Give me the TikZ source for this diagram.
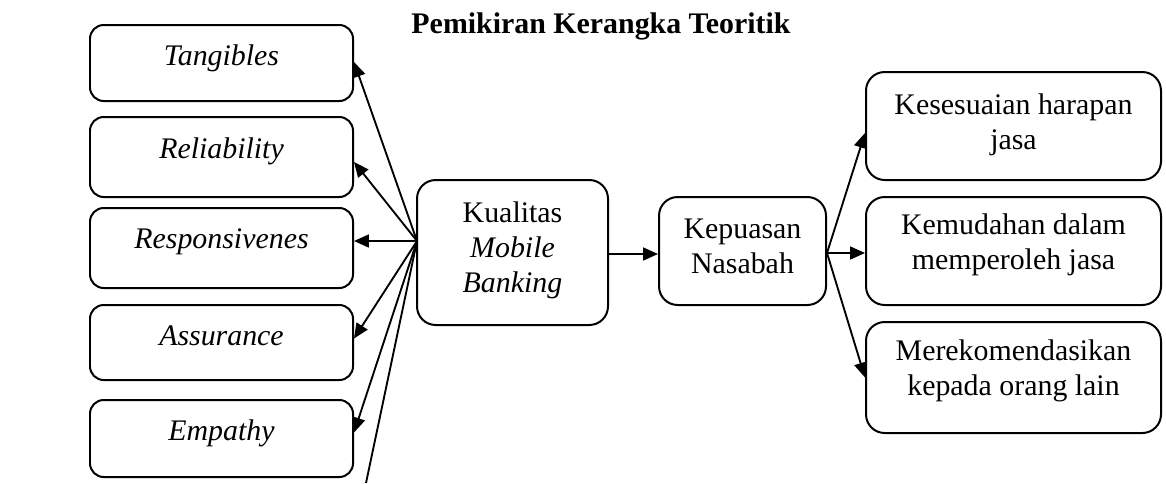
\documentclass[tikz,border=0pt]{standalone}
\usepackage{fontspec}
\setmainfont{Liberation Serif}
\usetikzlibrary{arrows.meta,fit}
\begin{document}
\begin{tikzpicture}[x=0.4016pt,y=-0.4016pt,
  box/.style={draw,line width=0.8pt,inner sep=0pt},
  lbox/.style={box,rounded corners=5.5pt},
  bbox/.style={box,rounded corners=7.5pt},
  lbl/.style={font=\fontsize{12}{14}\selectfont,align=center,inner sep=0pt},
  arr/.style={-{Triangle[length=6pt,width=5.2pt]},line width=0.75pt},
  plain/.style={line width=0.75pt}]
\useasboundingbox (0,0) rectangle (1166,483);

% title
\node[lbl,font=\fontsize{12}{14}\selectfont\bfseries,anchor=base] (title) at (601,33) {Pemikiran Kerangka Teoritik};

% left boxes
\node[lbox,fit={(90,25) (353,101)}] (tang) {};
\node[lbox,fit={(90,117) (353,197)}] (rel) {};
\node[lbox,fit={(90,208) (353,288)}] (resp) {};
\node[lbox,fit={(90,305) (353,380)}] (assu) {};
\node[lbox,fit={(90,400) (353,477)}] (emp) {};
\node[lbl,anchor=base] (ttang) at (221.5,65) {\textit{Tangibles}};
\node[lbl,anchor=base] (trel) at (221.5,158) {\textit{Reliability}};
\node[lbl,anchor=base] (tresp) at (221.5,248) {\textit{Responsivenes}};
\node[lbl,anchor=base] (tassu) at (221.5,345) {\textit{Assurance}};
\node[lbl,anchor=base] (temp) at (221.5,440) {\textit{Empathy}};

% middle boxes
\node[bbox,fit={(417,180) (608,325)}] (kual) {};
\node[lbl] (tkual) at (512.5,250.5) {Kualitas\\\textit{Mobile}\\\textit{Banking}};
\node[bbox,fit={(659,197) (826,305)}] (kep) {};
\node[lbl] (tkep) at (742.5,246) {Kepuasan\\Nasabah};

% right boxes
\node[bbox,fit={(866,72) (1161,180)}] (kes) {};
\node[bbox,fit={(866,197) (1161,305)}] (kem) {};
\node[bbox,fit={(866,322) (1161,433)}] (mer) {};
\node[lbl] (tkes) at (1013.5,125) {Kesesuaian harapan\\jasa};
\node[lbl] (tkem) at (1013.5,245) {Kemudahan dalam\\memperoleh jasa};
\node[lbl] (tmer) at (1013.5,370.5) {Merekomendasikan\\kepada orang lain};

% left fan
\coordinate (fo) at (417,241);
\coordinate (tail) at (366,483);
\draw[arr] (fo) -- ([yshift=0.4pt]tang.east);
\draw[arr] (fo) -- ([yshift=-2pt]rel.east);
\draw[arr] (fo) -- (fo -| resp.east);
\draw[arr] (fo) -- ([yshift=1.6pt]assu.east);
\draw[arr] (fo) -- ([yshift=2.4pt]emp.east);
\draw[plain] (fo) -- (tail);

% middle arrow
\draw[arr] ([yshift=-0.6pt]kual.east) -- ([yshift=-0.6pt]kual.east -| kep.west);

% right fan
\coordinate (ro) at ([yshift=-0.8pt]kep.east);
\draw[arr] (ro) -- ([yshift=-2.8pt]kes.west);
\draw[arr] (ro) -- (ro -| kem.west);
\draw[arr] (ro) -- (mer.west);
\end{tikzpicture}
\end{document}
